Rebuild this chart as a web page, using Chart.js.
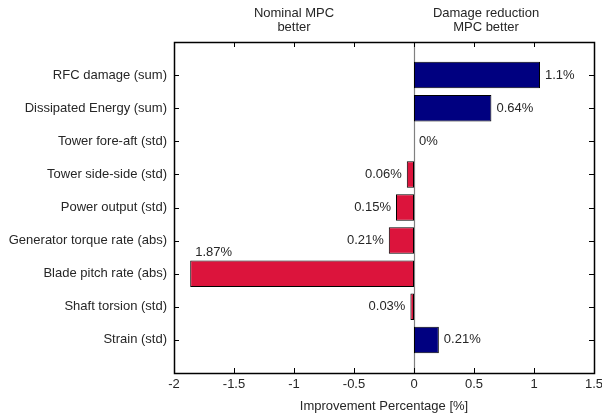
<!DOCTYPE html>
<html><head><meta charset="utf-8">
<script src="https://cdn.jsdelivr.net/npm/chart.js@4.4.1/dist/chart.umd.min.js"></script>
<style>html,body{margin:0;padding:0;background:#fff;overflow:hidden}#wrap{width:602px;height:417px;position:relative}</style>
</head><body><div id="wrap"><canvas id="c" width="602" height="417"></canvas></div>
<script>
const categories = ['RFC damage (sum)','Dissipated Energy (sum)','Tower fore-aft (std)','Tower side-side (std)','Power output (std)','Generator torque rate (abs)','Blade pitch rate (abs)','Shaft torsion (std)','Strain (std)'];
const values = [1.05, 0.645, 0, -0.06, -0.15, -0.21, -1.865, -0.03, 0.207];
const valueLabels = ['1.1%','0.64%','0%','0.06%','0.15%','0.21%','1.87%','0.03%','0.21%'];
const xTickValues = [-2,-1.5,-1,-0.5,0,0.5,1,1.5];
const xTitle = 'Improvement Percentage [%]';
const noteLeft = ['Nominal MPC','better'];
const noteRight = ['Damage reduction','MPC better'];

const FONT = 'Liberation Sans, Arial, Helvetica, sans-serif';
const TXT = '#262626';
const POS_COLOR = '#000080';
const NEG_COLOR = '#DC143C';

const labels = ['', ...categories, ''];
const data = [null, ...values, null];

const framePlugin = {
  id: 'frame',
  beforeDatasetsDraw(chart) {
    const {ctx, chartArea: a, scales: {x}} = chart;
    const zx = Math.round(x.getPixelForValue(0)) + 0.5;
    ctx.save();
    ctx.strokeStyle = '#808080';
    ctx.lineWidth = 1.2;
    ctx.beginPath(); ctx.moveTo(zx, a.top); ctx.lineTo(zx, a.bottom); ctx.stroke();
    ctx.restore();
  },
  afterDatasetsDraw(chart) {
    const {ctx, chartArea: a, scales: {x, y}} = chart;
    ctx.save();
    ctx.strokeStyle = '#000';
    ctx.lineWidth = 1.5;
    ctx.strokeRect(a.left + 0.5, a.top + 0.5, a.right - a.left, a.bottom - a.top);
    ctx.lineWidth = 1;
    ctx.beginPath();
    const L = 5;
    xTickValues.forEach(v => {
      const px = Math.round(x.getPixelForValue(v)) + 0.5;
      ctx.moveTo(px, a.top); ctx.lineTo(px, a.top + L);
      ctx.moveTo(px, a.bottom); ctx.lineTo(px, a.bottom - L);
    });
    categories.forEach((c, i) => {
      const py = Math.round(y.getPixelForValue(i + 1)) + 0.5;
      ctx.moveTo(a.left, py); ctx.lineTo(a.left + L, py);
      ctx.moveTo(a.right, py); ctx.lineTo(a.right - L, py);
    });
    ctx.stroke();

    // value labels
    ctx.font = '13px ' + FONT;
    ctx.fillStyle = TXT;
    ctx.textBaseline = 'middle';
    const meta = chart.getDatasetMeta(0);
    values.forEach((v, i) => {
      const el = meta.data[i + 1];
      const t = valueLabels[i];
      const w = ctx.measureText(t).width;
      if (v >= 0) {
        ctx.textAlign = 'left';
        ctx.fillText(t, el.x + 5, el.y);
      } else if (el.x - 5 - w < a.left) {
        ctx.textAlign = 'left';
        ctx.fillText(t, el.x + 5, el.y - el.height / 2 - 8);
      } else {
        ctx.textAlign = 'right';
        ctx.fillText(t, el.x - 5, el.y);
      }
    });

    // notes above the chart
    ctx.textAlign = 'center';
    [[-1, noteLeft], [0.6, noteRight]].forEach(([v, lines]) => {
      const px = x.getPixelForValue(v);
      lines.forEach((ln, k) => ctx.fillText(ln, px, 13 + k * 14));
    });
    ctx.restore();
  }
};

new Chart(document.getElementById('c'), {
  type: 'bar',
  data: {
    labels,
    datasets: [{
      data,
      backgroundColor: values.map(v => v >= 0 ? POS_COLOR : NEG_COLOR).reduce((a, c) => (a.push(c), a), ['#000']).concat(['#000']),
      borderColor: '#000',
      borderWidth: 1,
      borderSkipped: false,
      barPercentage: 0.8,
      categoryPercentage: 1
    }]
  },
  options: {
    indexAxis: 'y',
    responsive: false,
    animation: false,
    devicePixelRatio: 1,
    layout: {padding: {top: 42, right: 8, left: 0, bottom: 0}},
    plugins: {legend: {display: false}, tooltip: {enabled: false}},
    scales: {
      x: {
        type: 'linear', min: -2, max: 1.5,
        grid: {display: false, drawTicks: false},
        border: {display: false},
        ticks: {stepSize: 0.5, padding: 4, color: TXT, font: {family: FONT, size: 13},
          callback: v => String(Math.round(v * 10) / 10)},
        title: {display: true, text: xTitle, color: TXT, font: {family: FONT, size: 13}, padding: {top: 5, bottom: 3}},
        afterFit: s => { s.height = 44; s.paddingLeft = 0; s.paddingRight = 0; }
      },
      y: {
        type: 'category', offset: false,
        grid: {display: false, drawTicks: false},
        border: {display: false},
        ticks: {autoSkip: false, padding: 7, color: TXT, font: {family: FONT, size: 13}},
        afterFit: s => { s.width = 174; s.paddingTop = 0; s.paddingBottom = 0; }
      }
    }
  },
  plugins: [framePlugin]
});
</script>
</body></html>
